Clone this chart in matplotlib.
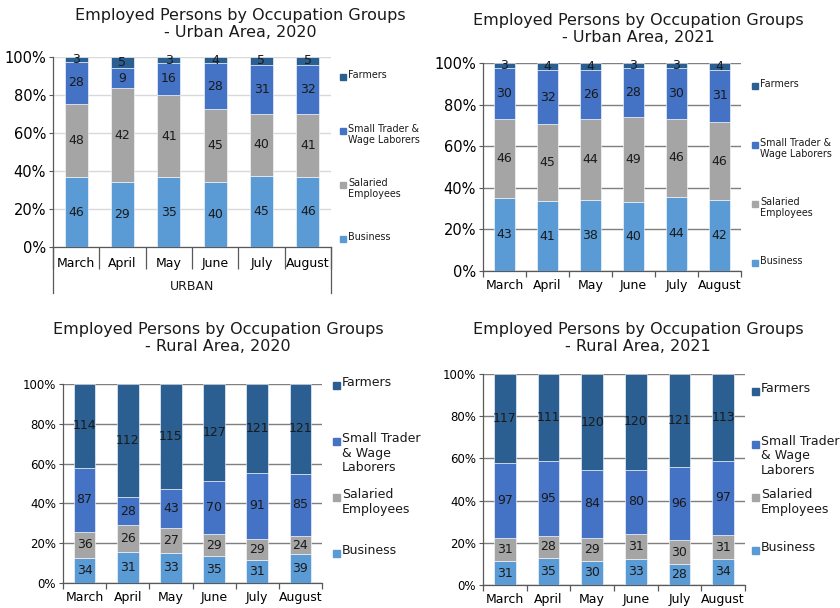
import matplotlib.pyplot as plt
import numpy as np
from matplotlib.patches import Rectangle

W, H = 840, 608

months = ["March", "April", "May", "June", "July", "August"]
colors = ["#5b9bd5", "#a5a5a5", "#4472c4", "#2b5f91"]  # business, salaried, small trader, farmers

# counts per month, bottom to top: business, salaried, small trader, farmers
urban_2020_business = [46, 29, 35, 40, 45, 46]
urban_2020_salaried = [48, 42, 41, 45, 40, 41]
urban_2020_trader = [28, 9, 16, 28, 31, 32]
urban_2020_farmers = [3, 5, 3, 4, 5, 5]

urban_2021_business = [43, 41, 38, 40, 44, 42]
urban_2021_salaried = [46, 45, 44, 49, 46, 46]
urban_2021_trader = [30, 32, 26, 28, 30, 31]
urban_2021_farmers = [3, 4, 4, 3, 3, 4]

rural_2020_business = [34, 31, 33, 35, 31, 39]
rural_2020_salaried = [36, 26, 27, 29, 29, 24]
rural_2020_trader = [87, 28, 43, 70, 91, 85]
rural_2020_farmers = [114, 112, 115, 127, 121, 121]

rural_2021_business = [31, 35, 30, 33, 28, 34]
rural_2021_salaried = [31, 28, 29, 31, 30, 31]
rural_2021_trader = [97, 95, 84, 80, 96, 97]
rural_2021_farmers = [117, 111, 120, 120, 121, 113]

legend_urban = ["Farmers", "Small Trader &\nWage Laborers", "Salaried\nEmployees", "Business"]
legend_rural = ["Farmers", "Small Trader\n& Wage\nLaborers", "Salaried\nEmployees", "Business"]

fig = plt.figure(figsize=(W / 100, H / 100), dpi=100)


def px_axes(l, t, r, b):
    return fig.add_axes([l / W, 1 - b / H, (r - l) / W, (b - t) / H])


def stacked(ax, series, grid_color, ytick_size=9, lab_size=9):
    data = np.array(series, dtype=float)
    pct = data / data.sum(axis=0) * 100
    x = np.arange(len(months))
    bottom = np.zeros(len(months))
    for i in range(len(series)):
        ax.bar(x, pct[i], 0.5, bottom=bottom, color=colors[i],
               edgecolor="white", linewidth=0.4, zorder=3)
        for xi, b, p, v in zip(x, bottom, pct[i], data[i]):
            ax.text(xi, b + p / 2, "%d" % v, ha="center", va="center",
                    fontsize=lab_size, color="#1a1a1a", zorder=4)
        bottom += pct[i]
    ax.set_xlim(-0.5, len(months) - 0.5)
    ax.set_ylim(0, 100)
    ax.set_yticks(np.arange(0, 101, 20))
    ax.set_yticklabels(["%d%%" % v for v in range(0, 101, 20)])
    ax.yaxis.grid(True, color=grid_color, linewidth=1, zorder=0)
    ax.set_axisbelow(True)
    for s in ("top", "right"):
        ax.spines[s].set_visible(False)
    for s in ("left", "bottom"):
        ax.spines[s].set_color("#595959")
        ax.spines[s].set_linewidth(0.9)
    # category boundaries as major ticks, month names on minor ticks
    ax.set_xticks(np.arange(-0.5, len(months)), [""] * (len(months) + 1))
    ax.set_xticks(x, months, minor=True)
    ax.tick_params(axis="x", which="minor", length=0, labelsize=9, pad=6)
    ax.tick_params(axis="y", length=3, color="#595959", labelsize=ytick_size, pad=2)


def legend_block(x, top, pitch, labels, fs, sq):
    for i, lab in enumerate(labels):
        y = top + i * pitch
        c = colors[len(colors) - 1 - i]
        fig.patches.append(Rectangle(((x) / W, 1 - (y + fs * 0.72 + sq / 2) / H),
                                     sq / W, sq / H, color=c,
                                     transform=fig.transFigure, figure=fig))
        fig.text((x + sq + 2) / W, 1 - y / H, lab, ha="left", va="top",
                 fontsize=fs * 0.72, linespacing=1.15, color="#1a1a1a")


def title(cx, cy, text):
    fig.text(cx / W, 1 - cy / H, text, ha="center", va="center",
             fontsize=11.5, linespacing=1.15, color="#1a1a1a")


# Urban 2020
ax1 = px_axes(53, 57, 331, 247)
stacked(ax1, [urban_2020_business, urban_2020_salaried, urban_2020_trader, urban_2020_farmers],
        "#d9d9d9", ytick_size=10.5)
ax1.tick_params(axis="x", which="major", length=16, color="#595959", width=0.9)
ax1.tick_params(axis="x", which="minor", pad=7)
for xe in (0, 1):
    ax1.plot([xe, xe], [0, -46 / 190], transform=ax1.transAxes, clip_on=False,
             color="#595959", linewidth=0.9)
ax1.text(0.5, -39 / 190, "URBAN", transform=ax1.transAxes, ha="center",
         va="center", fontsize=9, color="#1a1a1a")
title(240, 24, "Employed Persons by Occupation Groups\n- Urban Area, 2020")
legend_block(340, 70, 54, legend_urban, 9.7, 6)

# Urban 2021
ax2 = px_axes(483, 63, 741, 271)
stacked(ax2, [urban_2021_business, urban_2021_salaried, urban_2021_trader, urban_2021_farmers],
        "#7f7f7f", ytick_size=10.5)
ax2.tick_params(axis="x", which="major", length=4, color="#595959", width=0.9)
title(638, 29, "Employed Persons by Occupation Groups\n- Urban Area, 2021")
legend_block(752, 79, 59, legend_urban, 9.7, 6)

# Rural 2020
ax3 = px_axes(63, 384, 322, 583)
stacked(ax3, [rural_2020_business, rural_2020_salaried, rural_2020_trader, rural_2020_farmers],
        "#7f7f7f", ytick_size=8.5)
ax3.tick_params(axis="x", which="major", length=4, color="#595959", width=0.9)
title(218, 338, "Employed Persons by Occupation Groups\n- Rural Area, 2020")
legend_block(333, 376, 56, legend_rural, 12.5, 7)

# Rural 2021
ax4 = px_axes(483, 374, 745, 585)
stacked(ax4, [rural_2021_business, rural_2021_salaried, rural_2021_trader, rural_2021_farmers],
        "#7f7f7f", ytick_size=8.5)
ax4.tick_params(axis="x", which="major", length=4, color="#595959", width=0.9)
title(638, 338, "Employed Persons by Occupation Groups\n- Rural Area, 2021")
legend_block(752, 382, 53, legend_rural, 12.5, 7)

fig.savefig("out.png", dpi=100)
